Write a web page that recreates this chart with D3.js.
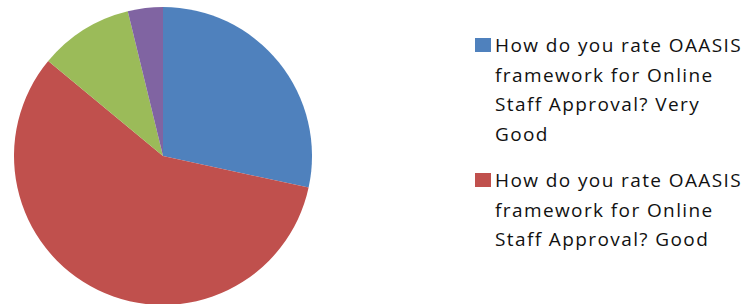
<!DOCTYPE html>
<html>
<head>
<meta charset="utf-8">
<script src="https://cdn.jsdelivr.net/npm/d3@7"></script>
<style>
  body { margin: 0; background: #fff; }
  svg { display: block; }
  .legend text { font-family: "Open Sans", "Liberation Sans", sans-serif; font-size: 19px; letter-spacing: 1.4px; fill: #111; }
</style>
</head>
<body>
<div id="chart"></div>
<script>
// share of answers per rating
var categories = [
  "How do you rate OAASIS framework for Online Staff Approval? Very Good",
  "How do you rate OAASIS framework for Online Staff Approval? Good",
  "How do you rate OAASIS framework for Online Staff Approval? Average",
  "How do you rate OAASIS framework for Online Staff Approval? Poor"
];
var values = [28.4, 57.6, 10.2, 3.8];
var colors = ["#4F81BD", "#C0504D", "#9BBB59", "#8064A2"];

// legend only shows the first two entries, wrapped as in the original
var legendLines = [
  ["How do you rate OAASIS", "framework for Online", "Staff Approval? Very", "Good"],
  ["How do you rate OAASIS", "framework for Online", "Staff Approval? Good"]
];

var width = 744, height = 304;
var cx = 163, cy = 156, radius = 149;

var svg = d3.select("#chart")
  .append("svg")
    .attr("width", width)
    .attr("height", height);

var color = d3.scaleOrdinal().domain(categories).range(colors);

var pie = d3.pie()
  .sort(null)
  .value(function (d, i) { return values[i]; });

var arc = d3.arc()
  .innerRadius(0)
  .outerRadius(radius);

var g = svg.append("g")
  .attr("transform", "translate(" + cx + "," + cy + ")");

g.selectAll("path")
  .data(pie(categories))
  .enter().append("path")
    .attr("d", arc)
    .attr("fill", function (d) { return color(d.data); });

// legend
var lineH = 29.5;
var legend = svg.append("g")
  .attr("class", "legend")
  .attr("transform", "translate(475,38)");

var entryY = [0, 135];

legendLines.forEach(function (lines, i) {
  var item = legend.append("g")
    .attr("transform", "translate(0," + entryY[i] + ")");
  item.append("rect")
    .attr("width", 16)
    .attr("height", 14)
    .attr("fill", colors[i]);
  item.selectAll("text")
    .data(lines)
    .enter().append("text")
      .attr("x", 20)
      .attr("y", function (d, j) { return 14 + j * lineH; })
      .text(function (d) { return d; });
});
</script>
</body>
</html>
